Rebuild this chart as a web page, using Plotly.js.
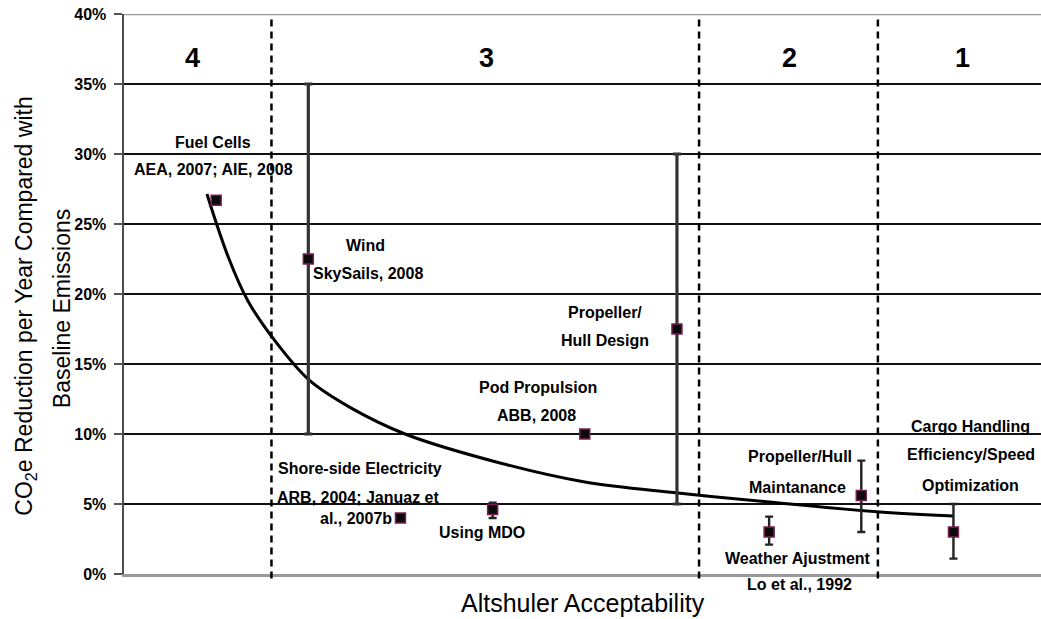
<!DOCTYPE html>
<html>
<head>
<meta charset="utf-8">
<script src="https://cdn.plot.ly/plotly-3.0.1.min.js"></script>
<style>html,body{margin:0;padding:0;background:#fff;}#chart{width:1041px;height:619px;}</style>
</head>
<body>
<div id="chart"></div>
<script>
// ---- data ----
var pointNames = ["Fuel Cells", "Wind", "Shore-side Electricity", "Using MDO", "Pod Propulsion",
                  "Propeller/Hull Design", "Weather Ajustment", "Propeller/Hull Maintanance", "Cargo Handling"];
var pointX = [1, 2, 3, 4, 5, 6, 7, 8, 9];
var pointY = [26.7, 22.5, 4.0, 4.6, 10.0, 17.5, 3.0, 5.6, 3.0];
var errPlus  = [0, 12.5, 0, 0.5, 0, 12.5, 1.1, 2.5, 2.0];
var errMinus = [0, 12.5, 0, 0.6, 0, 12.5, 0.9, 2.6, 1.9];
var thickBars = [false, true, false, false, false, true, false, false, false];

var curveX = [0.90, 1.128, 1.345, 1.606, 2.007, 2.452, 3.05, 4.08, 5.0, 6.01, 7.0, 8.2, 9.0];
var curveY = [27.14, 22.7, 19.5, 16.93, 13.86, 11.9, 10.0, 7.93, 6.57, 5.79, 5.14, 4.43, 4.14];

var regionBounds = [1.6, 6.24, 8.18];
var regionNames = ["4", "3", "2", "1"];
var regionNameX = [0.74, 3.93, 7.22, 9.1];

var yTickVals = [0, 5, 10, 15, 20, 25, 30, 35, 40];
var yTickText = ["0%", "5%", "10%", "15%", "20%", "25%", "30%", "35%", "40%"];

var labelTexts = ["Fuel Cells", "AEA, 2007; AIE, 2008", "Wind", "SkySails, 2008", "Propeller/", "Hull Design",
                  "Pod Propulsion", "ABB, 2008", "Shore-side Electricity", "ARB, 2004; Januaz et", "al., 2007b",
                  "Using MDO", "Propeller/Hull", "Maintanance", "Weather Ajustment",
                  "Cargo Handling", "Efficiency/Speed", "Optimization"];
var labelX = [0.966, 0.966, 2.615, 2.648, 5.22, 5.22, 4.49, 4.48, 2.56, 2.54, 2.52, 3.88, 7.34, 7.31, 7.31, 9.18, 9.19, 9.19];
var labelY = [30.8, 28.9, 23.5, 21.5, 18.7, 16.7, 13.3, 11.3, 7.57, 5.5, 3.93, 2.93, 8.36, 6.2, 1.14, 10.57, 8.57, 6.29];
// label that sits below the axis (paper coordinates)
var belowLabelText = "Lo et al., 1992";
var belowLabelX = 7.33;
var belowLabelPaperY = -0.0196;

// ---- build traces ----
var FONT = "Liberation Sans, Arial, sans-serif";

function pick(arr, cond) { return arr.filter(function (v, i) { return cond(i); }); }

var curve = {
  x: curveX, y: curveY, type: "scatter", mode: "lines",
  line: {color: "#000", width: 3, shape: "spline", smoothing: 1}, hoverinfo: "skip", showlegend: false
};

function errTrace(isThick) {
  var c = function (i) { return thickBars[i] === isThick && (errPlus[i] > 0 || errMinus[i] > 0); };
  return {
    x: pick(pointX, c), y: pick(pointY, c), type: "scatter", mode: "markers",
    marker: {size: 1, color: "rgba(0,0,0,0)"},
    error_y: {type: "data", symmetric: false, array: pick(errPlus, c), arrayminus: pick(errMinus, c),
              color: isThick ? "#333" : "#222", thickness: isThick ? 3.2 : 2.4, width: 4},
    hoverinfo: "skip", showlegend: false
  };
}

var points = {
  x: pointX, y: pointY, text: pointNames, type: "scatter", mode: "markers",
  marker: {symbol: "square", size: 10, color: "#0a0a0a", line: {color: "#7a1f52", width: 1.5}},
  showlegend: false
};

var shapes = [];
regionBounds.forEach(function (b) {
  shapes.push({type: "line", xref: "x", yref: "paper", x0: b, x1: b, y0: -0.008, y1: 0.995,
               line: {color: "#000", width: 2.5, dash: "7px,5px"}, layer: "above"});
});
shapes.push({type: "line", xref: "paper", yref: "y", x0: 0, x1: 1, y0: 40, y1: 40,
             line: {color: "#999", width: 2.5}, layer: "above"});

var annotations = [];
regionNames.forEach(function (n, i) {
  annotations.push({x: regionNameX[i], y: 36.85, xref: "x", yref: "y", text: n, showarrow: false,
                    font: {family: FONT, size: 27, color: "#000", weight: "bold"}});
});
labelTexts.forEach(function (t, i) {
  annotations.push({x: labelX[i], y: labelY[i], xref: "x", yref: "y", text: t, showarrow: false,
                    font: {family: FONT, size: 16, color: "#000", weight: "bold"}});
});
annotations.push({x: belowLabelX, y: belowLabelPaperY, xref: "x", yref: "paper", text: belowLabelText,
                  showarrow: false, yanchor: "middle",
                  font: {family: FONT, size: 16, color: "#000", weight: "bold"}});
annotations.push({x: -0.107, y: 0.479, xref: "paper", yref: "paper", textangle: -90, showarrow: false,
                  text: "CO<sub>2</sub>e Reduction per Year Compared with",
                  font: {family: FONT, size: 23, color: "#000"}, xanchor: "center", yanchor: "middle"});
annotations.push({x: -0.0676, y: 0.473, xref: "paper", yref: "paper", textangle: -90, showarrow: false,
                  text: "Baseline Emissions",
                  font: {family: FONT, size: 23, color: "#000"}, xanchor: "center", yanchor: "middle"});
annotations.push({x: 0.5, y: -0.052, xref: "paper", yref: "paper", showarrow: false,
                  text: "Altshuler Acceptability",
                  font: {family: FONT, size: 25, color: "#000"}, xanchor: "center", yanchor: "middle"});

var layout = {
  width: 1041, height: 619,
  margin: {l: 124, r: 0, t: 14, b: 45},
  paper_bgcolor: "#fff", plot_bgcolor: "#fff",
  showlegend: false,
  xaxis: {range: [0, 9.95], showgrid: false, zeroline: false, showticklabels: false, ticks: "",
          showline: true, linecolor: "#999", linewidth: 2.5, fixedrange: true},
  yaxis: {range: [0, 40], tickvals: yTickVals, ticktext: yTickText, showgrid: true, gridcolor: "#111",
          gridwidth: 1.6, zeroline: false, showline: true, linecolor: "#4d4d4d", linewidth: 2.5,
          ticks: "outside", ticklen: 8, tickcolor: "#555", tickwidth: 1.5, ticklabelstandoff: 4,
          tickfont: {family: FONT, size: 16, color: "#000", weight: "bold"}, fixedrange: true},
  shapes: shapes,
  annotations: annotations
};

Plotly.newPlot("chart", [curve, errTrace(true), errTrace(false), points], layout,
               {displayModeBar: false, staticPlot: true});
</script>
</body>
</html>
